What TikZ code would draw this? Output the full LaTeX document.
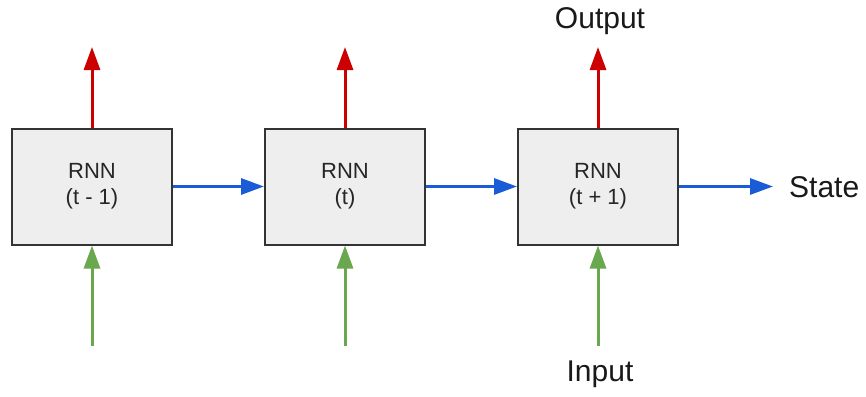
\documentclass[tikz,border=0pt]{standalone}
\usepackage{fontspec}
\setmainfont{Liberation Sans}
\usetikzlibrary{arrows.meta}
\definecolor{boxfill}{HTML}{EEEEEE}
\definecolor{boxline}{HTML}{333333}
\definecolor{outred}{HTML}{CC0000}
\definecolor{stblue}{HTML}{1A5BD6}
\definecolor{ingreen}{HTML}{6AA84F}
\begin{document}
\begin{tikzpicture}[x=1pt,y=-1pt,
  rnnbox/.style={draw=boxline, fill=boxfill, line width=2pt, minimum width=160pt, minimum height=116pt, inner sep=0pt, align=center, font=\fontsize{22}{26}\selectfont, text=black!85},
  lbl/.style={font=\fontsize{30}{34}\selectfont, text=black!90, inner sep=0pt},
  tip/.style={-{Triangle[length=23pt,width=16pt]}, line width=3pt},
  outarrow/.style={tip, draw=outred},
  statearrow/.style={tip, draw=stblue},
  inarrow/.style={tip, draw=ingreen}]
\useasboundingbox (0,0) rectangle (866,396);
\node[rnnbox] (r1) at (92,186.5) {RNN\\(t - 1)};
\node[rnnbox] (r2) at (345,186.5) {RNN\\(t)};
\node[rnnbox] (r3) at (598,186.5) {RNN\\(t + 1)};
% output tips
\coordinate (o1) at (92,47);
\coordinate (o2) at (345,47);
\coordinate (o3) at (598,47);
% input starts
\coordinate (i1) at (92,346);
\coordinate (i2) at (345,346);
\coordinate (i3) at (598,346);
\coordinate (send) at (773,186.5);
\node[lbl] (output) at (600,21) {Output};
\node[lbl, anchor=west] (state) at (789,187) {State};
\node[lbl] (input) at (600,374) {Input};
\draw[outarrow] (r1.north) -- (o1);
\draw[outarrow] (r2.north) -- (o2);
\draw[outarrow] (r3.north) -- (o3);
\draw[inarrow] (i1) -- (r1.south);
\draw[inarrow] (i2) -- (r2.south);
\draw[inarrow] (i3) -- (r3.south);
\draw[statearrow] (r1.east) -- (r2.west);
\draw[statearrow] (r2.east) -- (r3.west);
\draw[statearrow] (r3.east) -- (send);
\end{tikzpicture}
\end{document}
